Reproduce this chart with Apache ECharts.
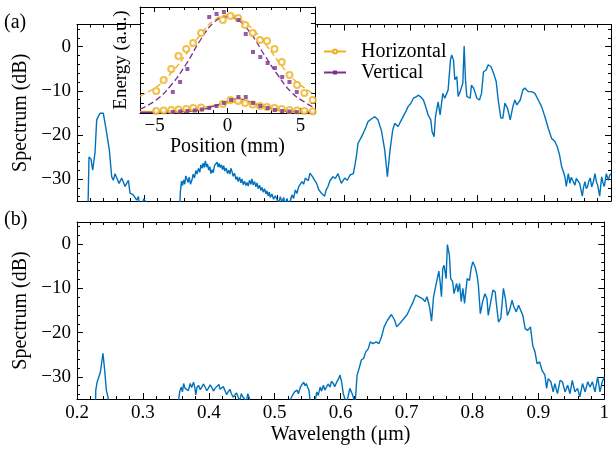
<!DOCTYPE html>
<html>
<head>
<meta charset="utf-8">
<script src="https://cdn.jsdelivr.net/npm/echarts@6/dist/echarts.min.js"></script>
<style>
html, body { margin: 0; padding: 0; background: #fff; }
#chart { width: 612px; height: 452px; }
</style>
</head>
<body>
<div id="chart"></div>
<script>
// spectrum (a): [wavelength um, dB], values under -35 are off the axis
const specA = [
  [0.200, -40], [0.216, -40], [0.218, -25], [0.221, -25.5], [0.2235, -28], [0.227, -24], [0.2295, -16.6],
  [0.232, -15.8], [0.2345, -15.1], [0.237, -15.3], [0.2394, -15.1], [0.242, -15.5], [0.2445, -19.6],
  [0.2484, -23.4], [0.252, -29.5], [0.2544, -30.3], [0.257, -28.8], [0.2594, -29.1], [0.263, -31],
  [0.267, -29.8], [0.272, -31.7], [0.277, -30.3], [0.2794, -33.2], [0.2844, -33.6], [0.2894, -34.8],
  [0.292, -34], [0.2944, -37], [0.300, -34.5], [0.3044, -35.5], [0.306, -40], [0.353, -40],
  [0.3548, -33], [0.3565, -30.5], [0.358, -31.5], [0.3598, -30.2], [0.3615, -31.2], [0.363, -29.3],
  [0.3648, -29.5], [0.3665, -30.8], [0.368, -29.6], [0.370, -31.2], [0.3723, -30.2], [0.374, -28.9],
  [0.376, -29.8], [0.378, -28.1], [0.3798, -28.9], [0.382, -27.6], [0.384, -28.5], [0.3855, -26.8],
  [0.3873, -27.6], [0.389, -26.4], [0.3905, -27.4], [0.3923, -25.9], [0.394, -27.3], [0.3955, -26.6],
  [0.3973, -28], [0.399, -27.2], [0.4005, -28.8], [0.4022, -27.9], [0.404, -28.6], [0.406, -27],
  [0.408, -26.9], [0.4097, -26.2], [0.4115, -27.3], [0.413, -26.5], [0.4147, -27.4], [0.4165, -26.8],
  [0.418, -27.9], [0.4197, -27], [0.4215, -28.2], [0.4235, -27.5], [0.4255, -28.8], [0.4272, -28],
  [0.429, -28.9], [0.4305, -27.6], [0.4322, -28.3], [0.434, -29.4], [0.436, -28.7], [0.438, -30.1],
  [0.4397, -29.5], [0.4415, -30.6], [0.4435, -29.6], [0.4455, -30.9], [0.4472, -30], [0.449, -31.3],
  [0.451, -30.5], [0.453, -31.5], [0.4547, -30.8], [0.4565, -31.6], [0.4585, -30.3], [0.4605, -31.2],
  [0.4622, -30], [0.464, -31.4], [0.466, -30.6], [0.468, -31.8], [0.4697, -30.9], [0.4715, -32.2],
  [0.4735, -31.4], [0.4755, -32.6], [0.4772, -31.9], [0.479, -33], [0.481, -32.2], [0.483, -33.4],
  [0.4846, -32.7], [0.4865, -33.8], [0.488, -33], [0.4896, -34.2], [0.492, -33.4], [0.4945, -34.6],
  [0.497, -33.8], [0.4996, -34.6], [0.502, -35.5], [0.5045, -34], [0.507, -35.3], [0.5096, -34.2],
  [0.512, -35.8], [0.5145, -34.4], [0.517, -35.6], [0.5196, -35], [0.522, -33.6], [0.5245, -34.4],
  [0.5271, -32.5], [0.5295, -33.3], [0.532, -31.8], [0.5346, -32.2], [0.537, -30.6], [0.5395, -31.2],
  [0.542, -29.8], [0.544, -29.5], [0.5465, -30.4], [0.549, -28.7], [0.5515, -29.2], [0.554, -29.6],
  [0.559, -31], [0.562, -32.4], [0.566, -33.2], [0.571, -33.9], [0.573, -32.6], [0.576, -31.7],
  [0.579, -30.4], [0.5835, -29.5], [0.587, -29.9], [0.591, -28.8], [0.594, -30.2], [0.596, -31],
  [0.601, -29.8], [0.605, -30.3], [0.609, -29.1], [0.614, -28.8], [0.616, -27.2], [0.619, -24.4], [0.621, -21.9],
  [0.625, -20.8], [0.629, -19.6], [0.633, -18.2], [0.636, -17], [0.641, -16.4], [0.646, -15.9], [0.651, -16.6],
  [0.656, -19], [0.661, -23.4], [0.665, -29.5], [0.669, -23.4], [0.673, -18.9], [0.676, -17.4],
  [0.681, -18.1], [0.686, -16.6], [0.691, -15.2], [0.696, -13.6], [0.700, -12.9], [0.704, -11.7], [0.708, -11.4],
  [0.711, -11], [0.715, -11.4], [0.719, -12.1], [0.723, -13.9], [0.726, -15.5], [0.730, -16.6], [0.732, -19.3],
  [0.735, -20.4], [0.737, -15.9], [0.741, -12.5], [0.744, -15.5], [0.748, -10.6], [0.751, -11.7],
  [0.756, -9.8], [0.7595, -3], [0.7613, -1.9], [0.764, -3], [0.766, -7.5], [0.769, -6.8], [0.771, -11.3],
  [0.774, -10.2], [0.776, -10.6], [0.778, -8.3], [0.780, 0.15], [0.782, -7.5], [0.784, -11.3],
  [0.786, -11], [0.789, -11.7], [0.791, -8.7], [0.794, -9.4], [0.796, -10.2], [0.799, -11.7],
  [0.803, -12.1], [0.806, -10.6], [0.809, -5.7], [0.813, -5.3], [0.816, -4.1], [0.820, -4.5],
  [0.824, -6], [0.828, -7.9], [0.831, -12.1], [0.835, -16.2], [0.838, -16.2], [0.841, -12.8],
  [0.845, -14], [0.849, -16.6], [0.853, -13.6], [0.856, -12.1], [0.859, -13.2], [0.864, -12.1],
  [0.868, -9.8], [0.871, -9.4], [0.876, -10.2], [0.881, -10.2], [0.886, -10.6], [0.891, -12.1],
  [0.896, -13.6], [0.901, -15.9], [0.906, -18.5], [0.911, -20.8], [0.916, -21.5], [0.9195, -22.7],
  [0.923, -24.6], [0.926, -27.2], [0.9285, -28.3], [0.931, -29.5], [0.933, -31.7], [0.936, -28.8],
  [0.9385, -31], [0.9405, -29.6], [0.9425, -30.3], [0.946, -31.4], [0.948, -29.9], [0.950, -30.3], [0.953, -31],
  [0.955, -32.4], [0.957, -33.9], [0.959, -31.8], [0.961, -30.6], [0.963, -32.2], [0.965, -31.7], [0.967, -30.4],
  [0.969, -29.8], [0.971, -31.8], [0.973, -31], [0.976, -28.8], [0.978, -30.6], [0.980, -31.4], [0.983, -33.9],
  [0.986, -29.5], [0.988, -30.9], [0.990, -31.7], [0.993, -28.8], [0.996, -30.3], [0.998, -29.2], [1.000, -28.8]
]

// spectrum (b)
const specB = [
  [0.200, -40], [0.2275, -40], [0.2285, -33], [0.2305, -31.2], [0.2335, -30.9], [0.2355, -28.9],
  [0.2375, -29.3], [0.2394, -24.7], [0.242, -28.5], [0.2445, -33], [0.2484, -35.5], [0.250, -40],
  [0.352, -40], [0.3543, -35], [0.356, -33.2], [0.3583, -32.3], [0.360, -33.4], [0.3618, -31.5],
  [0.364, -32.6], [0.3668, -32.3], [0.369, -33.1], [0.3718, -31.5], [0.374, -32.4], [0.3768, -31.2],
  [0.3785, -32.2], [0.3803, -34.1], [0.382, -32.4], [0.3843, -31.9], [0.387, -32.9], [0.3893, -32.3],
  [0.392, -31.6], [0.3943, -32.3], [0.397, -33.1], [0.3993, -32.6], [0.402, -31.8], [0.4043, -32.3],
  [0.407, -33.2], [0.4093, -32.6], [0.412, -32.9], [0.4153, -31.7], [0.417, -32.8], [0.4193, -33],
  [0.422, -32.2], [0.4243, -33], [0.427, -34], [0.4293, -33.4], [0.432, -32.8], [0.4343, -33.8],
  [0.437, -34.6], [0.4393, -34.2], [0.442, -33.6], [0.4443, -34.5], [0.447, -35.4], [0.4493, -33.8],
  [0.452, -34.6], [0.4543, -34.9], [0.457, -35.6], [0.4591, -33.8], [0.4616, -34.9], [0.463, -40],
  [0.522, -40], [0.524, -35], [0.527, -34.2], [0.530, -33.4], [0.534, -33], [0.536, -33.8], [0.539, -32.3],
  [0.541, -31.8], [0.544, -31.2], [0.546, -32], [0.548, -31.5], [0.550, -32.4], [0.552, -33], [0.554, -36],
  [0.557, -40], [0.560, -40], [0.5617, -35], [0.564, -33.4], [0.566, -34.2], [0.569, -32.3], [0.571, -33.2],
  [0.574, -31.9], [0.576, -33], [0.579, -32.6], [0.581, -31.6], [0.584, -32.3], [0.586, -31], [0.589, -31.5],
  [0.591, -32.2], [0.594, -31.2], [0.597, -30.4], [0.599, -29.6], [0.6015, -31.1], [0.604, -33.8],
  [0.609, -36], [0.614, -32.6], [0.618, -34], [0.622, -36], [0.625, -29.6], [0.628, -28.1], [0.6315, -26.2],
  [0.635, -25.8], [0.638, -24.4], [0.642, -23.6], [0.645, -22.1], [0.649, -22.5], [0.654, -22.1],
  [0.658, -22.5], [0.662, -21], [0.666, -18.7], [0.671, -17.2], [0.677, -15.9], [0.682, -17.2],
  [0.685, -18.7], [0.690, -17.9], [0.696, -16.8], [0.701, -15.9], [0.705, -14.6], [0.709, -13.4],
  [0.714, -11.5], [0.719, -11.9], [0.724, -12.3], [0.728, -13], [0.731, -11.9], [0.735, -14.2],
  [0.738, -17.4], [0.741, -11.9], [0.744, -9.7], [0.746, -10], [0.749, -6.1], [0.751, -8.6],
  [0.753, -11.9], [0.755, -5.5], [0.757, -4.8], [0.760, -7.8], [0.762, -0.1], [0.765, -2.5],
  [0.767, -7.8], [0.770, -8.5], [0.772, -11.2], [0.776, -8.9], [0.778, -10.8], [0.7805, -8.9],
  [0.783, -13], [0.7855, -10], [0.788, -13.4], [0.792, -7.8], [0.7955, -8.2], [0.798, -5.5],
  [0.8005, -4], [0.804, -5.1], [0.807, -7], [0.809, -9.3], [0.812, -15.7], [0.8155, -13],
  [0.819, -11.2], [0.822, -12.3], [0.824, -16.1], [0.827, -15.7], [0.831, -10.4], [0.8345, -10.8],
  [0.836, -13], [0.8395, -17.6], [0.843, -16.8], [0.847, -10], [0.850, -12.3], [0.853, -16.1],
  [0.8565, -14.9], [0.860, -12.7], [0.863, -14.2], [0.8665, -15.3], [0.870, -13.8], [0.873, -14.2],
  [0.8765, -16.1], [0.880, -19.1], [0.884, -19.5], [0.888, -18.7], [0.8915, -22.9], [0.895, -24.4],
  [0.898, -27], [0.902, -26.6], [0.9055, -28.5], [0.910, -29.6], [0.9125, -32.6], [0.915, -30.4],
  [0.919, -31.1], [0.9225, -33.4], [0.925, -31.5], [0.929, -33.8], [0.933, -30.8], [0.9365, -31.1],
  [0.9405, -33.4], [0.9445, -31.9], [0.948, -33.8], [0.9515, -30.8], [0.9555, -33.4], [0.9595, -32.6],
  [0.963, -34.5], [0.967, -31.5], [0.971, -33.4], [0.975, -31.1], [0.9785, -32.3], [0.982, -31.1],
  [0.986, -33.4], [0.990, -30], [0.9935, -33.4], [0.997, -31.1], [1.000, -30]
]

// inset: measured energy vs position (mm)
const posH = [-4.89, -4.38, -3.86, -3.36, -2.83, -2.35, -1.81, -0.32, 0.2, 0.73, 1.21, 1.73, 2.23, 2.71, 3.22, 3.72, 4.25, 4.77, 5.27, 5.84]
const hTop = [0.22, 0.33, 0.44, 0.57, 0.64, 0.70, 0.80, 0.93, 0.97, 0.95, 0.88, 0.80, 0.73, 0.72, 0.64, 0.51, 0.38, 0.28, 0.20, 0.13]
const hBot = [0.02, 0.025, 0.03, 0.035, 0.04, 0.05, 0.055, 0.09, 0.13, 0.12, 0.10, 0.085, 0.07, 0.06, 0.05, 0.04, 0.03, 0.025, 0.02, 0.015]
const posVTop = [-3.75, -3.25, -2.75, -1.25, -0.75, -0.25, 0.75, 1.25, 1.75, 2.25, 2.75, 3.25, 3.75, 4.25, 4.75]
const vTop = [0.21, 0.31, 0.44, 0.96, 0.99, 1.01, 0.93, 0.79, 0.61, 0.56, 0.50, 0.45, 0.36, 0.31, 0.21]
const posVBot = [-3.75, -3.25, -2.75, -2.25, -1.75, -1.25, -0.75, -0.25, 0.25, 0.75, 1.25, 1.75, 2.25, 2.75, 3.25, 3.75, 4.25, 4.75]
const vBot = [0.01, 0.015, 0.02, 0.025, 0.035, 0.05, 0.07, 0.10, 0.13, 0.16, 0.16, 0.10, 0.07, 0.05, 0.03, 0.02, 0.015, 0.01]

// inset fits
const fitHTop = [[-6, 0.17], [-4.89, 0.26], [-3.86, 0.40], [-2.83, 0.59], [-1.81, 0.79], [-0.9, 0.93], [0.02, 0.98], [0.93, 0.93], [1.85, 0.82], [2.76, 0.66], [3.67, 0.48], [4.58, 0.33], [5.5, 0.23], [6, 0.18]]
const fitVTop = [[-6, 0.04], [-4.89, 0.13], [-3.86, 0.28], [-2.83, 0.49], [-1.81, 0.74], [-0.9, 0.91], [-0.1, 0.96], [0.7, 0.93], [1.62, 0.79], [2.53, 0.58], [3.45, 0.38], [4.36, 0.21], [5.27, 0.11], [6, 0.05]]
const fitHBot = [[-6, 0.015], [-4, 0.02], [-3, 0.03], [-2, 0.045], [-1, 0.075], [0, 0.10], [0.5, 0.11], [1, 0.11], [1.5, 0.10], [2, 0.085], [3, 0.05], [4, 0.03], [5, 0.02], [6, 0.015]]
const fitVBot = [[-6, 0.005], [-4, 0.008], [-3, 0.015], [-2, 0.025], [-1, 0.065], [0, 0.115], [0.7, 0.14], [1.5, 0.115], [2, 0.085], [3, 0.045], [4, 0.02], [5, 0.01], [6, 0.005]]

const dbTicks = [-30, -20, -10, 0]
const dbMinor = [-34, -32, -28, -26, -24, -22, -18, -16, -14, -12, -8, -6, -4, -2, 2, 4]
const posTicks = [-5, 0, 5]
const posMinor = [-4, -3, -2, -1, 1, 2, 3, 4]

const FONT = 'Liberation Serif'
const BLUE = '#0072BD'
const ORANGE = '#EDB120'
const PURPLE = '#7E2F8E'
const minus = v => String(v).replace('-', '\u2212')
const txt = { fontFamily: FONT, fontSize: 19, color: '#000' }
const nameTxt = { fontFamily: FONT, fontSize: 20, color: '#000' }

const chart = echarts.init(document.getElementById('chart'))

// main panel x axes (bottom + mirrored top)
function wlAxis(grid, pos, labels) {
  return {
    gridIndex: grid, type: 'value', position: pos, min: 0.2, max: 1, interval: 0.1,
    name: labels ? 'Wavelength (μm)' : '', nameLocation: 'middle', nameGap: 26, nameTextStyle: nameTxt,
    axisLine: { show: true, onZero: false, lineStyle: { color: '#000', width: 1 } },
    axisTick: { inside: true, length: 6, lineStyle: { color: '#000' } },
    minorTick: { show: true, splitNumber: 5, length: 3, lineStyle: { color: '#000' } },
    axisLabel: { show: labels, margin: 5, ...txt, formatter: v => String(+v.toFixed(1)) },
    splitLine: { show: false }, minorSplitLine: { show: false }
  }
}

// y axes: major with labels, minor only ticks
function dbAxis(grid, pos, labels, minor) {
  return {
    gridIndex: grid, type: 'value', position: pos, min: -35, max: 5,
    name: labels ? 'Spectrum (dB)' : '', nameLocation: 'middle', nameGap: 31, nameTextStyle: nameTxt,
    axisLine: { show: !minor, onZero: false, lineStyle: { color: '#000', width: 1 } },
    axisTick: { inside: true, length: minor ? 3 : 6, customValues: minor ? dbMinor : dbTicks, lineStyle: { color: '#000' } },
    axisLabel: { show: labels, margin: 6, ...txt, customValues: dbTicks, formatter: minus },
    splitLine: { show: false }
  }
}

function posAxis(pos, labels, minor) {
  return {
    gridIndex: 2, type: 'value', position: pos, min: -6, max: 6, z: 11,
    name: labels ? 'Position (mm)' : '', nameLocation: 'middle', nameGap: 22, nameTextStyle: nameTxt,
    axisLine: { show: !minor, onZero: false, lineStyle: { color: '#000', width: 1 } },
    axisTick: { inside: true, length: minor ? 3 : 5, customValues: minor ? posMinor : posTicks, lineStyle: { color: '#000' } },
    axisLabel: { show: labels, margin: 4, ...txt, customValues: posTicks, formatter: minus },
    splitLine: { show: false }
  }
}

function energyAxis(pos, labels) {
  return {
    gridIndex: 2, type: 'value', position: pos, min: 0, max: 1.06, interval: 0.1, z: 11,
    name: labels ? 'Energy (a.u.)' : '', nameLocation: 'middle', nameGap: 9, nameTextStyle: txt,
    axisLine: { show: true, onZero: false, lineStyle: { color: '#000', width: 1 } },
    axisTick: { inside: true, length: 4, lineStyle: { color: '#000' } },
    axisLabel: { show: false },
    splitLine: { show: false }
  }
}

function fitLine(name, data, color, dashed, sym) {
  return {
    name: name, type: 'line', xAxisIndex: 4, yAxisIndex: 8, data: data, smooth: true,
    symbol: sym, showSymbol: false, z: 12, clip: true,
    lineStyle: { color: color, width: 1.3, type: dashed ? [6, 3] : 'solid' },
    itemStyle: { color: color }
  }
}

const option = {
  animation: false,
  backgroundColor: '#fff',
  title: [
    { text: '(a)', left: 4, top: 13, padding: 0, textStyle: { ...nameTxt, fontWeight: 'normal' } },
    { text: '(b)', left: 4, top: 210, padding: 0, textStyle: { ...nameTxt, fontWeight: 'normal' } }
  ],
  legend: {
    data: ['Horizontal', 'Vertical'], orient: 'vertical', left: 323, top: 41, padding: 0,
    itemWidth: 22, itemHeight: 5, itemGap: 0, selectedMode: false, z: 13,
    textStyle: { ...nameTxt, lineHeight: 21, padding: [0, 0, 0, 10] }
  },
  grid: [
    { left: 77, top: 24.6, width: 534, height: 176.4 },
    { left: 77, top: 222, width: 534, height: 177 },
    { left: 140, top: 7, width: 175, height: 106, show: true, backgroundColor: '#fff', borderWidth: 0, z: 10 }
  ],
  xAxis: [
    wlAxis(0, 'bottom', false), wlAxis(0, 'top', false),
    wlAxis(1, 'bottom', true), wlAxis(1, 'top', false),
    posAxis('bottom', true, false), posAxis('top', false, false),
    posAxis('bottom', false, true), posAxis('top', false, true)
  ],
  yAxis: [
    dbAxis(0, 'left', true, false), dbAxis(0, 'right', false, false),
    dbAxis(0, 'left', false, true), dbAxis(0, 'right', false, true),
    dbAxis(1, 'left', true, false), dbAxis(1, 'right', false, false),
    dbAxis(1, 'left', false, true), dbAxis(1, 'right', false, true),
    energyAxis('left', true), energyAxis('right', false)
  ],
  series: [
    fitLine('Horizontal', fitHBot, ORANGE, false, 'emptyCircle'),
    fitLine('Vertical', fitVBot, PURPLE, false, 'rect'),
    fitLine('Horizontal', fitHTop, ORANGE, true, 'emptyCircle'),
    fitLine('Vertical', fitVTop, PURPLE, true, 'rect'),
    {
      name: 'Horizontal', type: 'scatter', xAxisIndex: 4, yAxisIndex: 8, z: 12,
      symbol: 'emptyCircle', symbolSize: 6,
      itemStyle: { color: ORANGE, borderWidth: 1.2 },
      data: posH.map((x, i) => [x, hTop[i]]).concat(posH.map((x, i) => [x, hBot[i]]))
    },
    {
      name: 'Vertical', type: 'scatter', xAxisIndex: 4, yAxisIndex: 8, z: 12,
      symbol: 'rect', symbolSize: 4,
      itemStyle: { color: PURPLE },
      data: posVTop.map((x, i) => [x, vTop[i]]).concat(posVBot.map((x, i) => [x, vBot[i]]))
    },
    {
      name: 'spec a', type: 'line', xAxisIndex: 0, yAxisIndex: 0, data: specA,
      symbol: 'none', clip: true, lineStyle: { color: BLUE, width: 1.4 }
    },
    {
      name: 'spec b', type: 'line', xAxisIndex: 2, yAxisIndex: 4, data: specB,
      symbol: 'none', clip: true, lineStyle: { color: BLUE, width: 1.4 }
    }
  ]
}

chart.setOption(option)
</script>
</body>
</html>
